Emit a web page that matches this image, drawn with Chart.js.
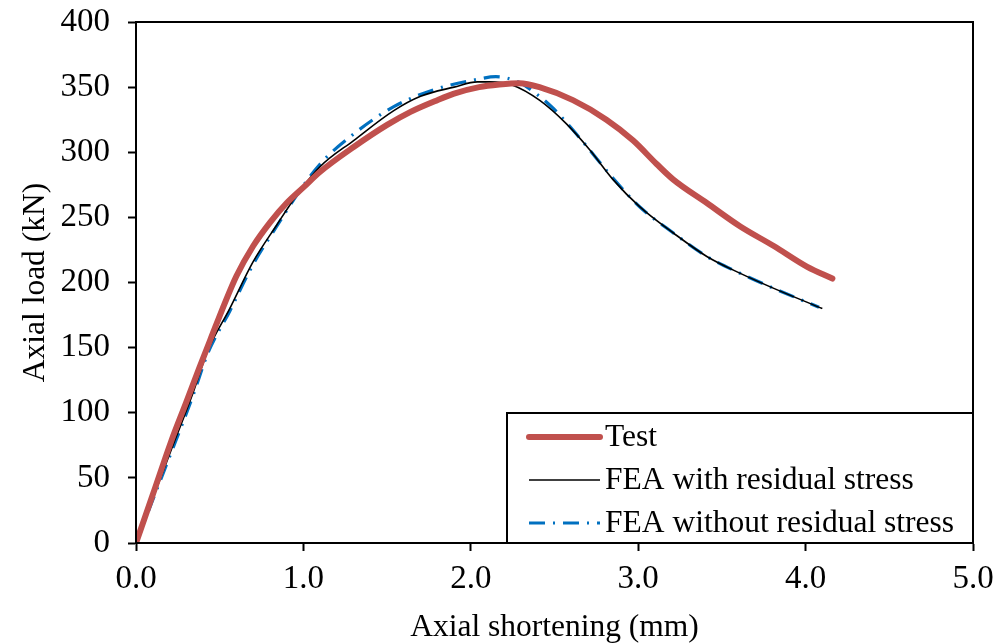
<!DOCTYPE html>
<html>
<head>
<meta charset="utf-8">
<script src="https://cdn.jsdelivr.net/npm/chart.js@4"></script>
<style>
  body { margin: 0; background: #fff; }
</style>
</head>
<body>
<canvas id="myChart" width="996" height="643"></canvas>
<script>
// Test curve
const testX = [0, 0.1, 0.21, 0.3, 0.38, 0.45, 0.53, 0.6, 0.7, 0.8, 0.9, 1.0, 1.1, 1.3, 1.5, 1.64, 1.8, 1.9, 2.05, 2.17, 2.29, 2.41, 2.61, 2.81, 2.97, 3.11, 3.21, 3.41, 3.61, 3.81, 4.01, 4.16];
const testY = [0, 37, 78, 108, 135, 158, 184, 205, 228, 246, 261, 273, 285, 304, 321, 331, 340, 345, 350, 352, 353, 350, 340, 325, 309, 291, 279, 261, 243, 228, 212, 203];

// FEA with residual stress
const feaRsX = [0, 0.1, 0.2, 0.34, 0.43, 0.56, 0.7, 0.84, 0.96, 1.1, 1.3, 1.54, 1.7, 1.9, 2.04, 2.11, 2.25, 2.41, 2.57, 2.71, 2.85, 3.01, 3.21, 3.41, 3.61, 3.81, 4.1];
const feaRsY = [0, 34, 68, 115, 148, 180, 216, 244, 267, 289, 309, 332, 343, 350, 354, 354, 351.5, 340, 322, 302, 279, 258, 238, 220, 207, 195.5, 180];

// FEA without residual stress
const feaNoX = [0, 0.1, 0.2, 0.34, 0.43, 0.56, 0.7, 0.84, 0.96, 1.1, 1.3, 1.54, 1.78, 2.04, 2.15, 2.29, 2.39, 2.49, 2.57, 2.67, 2.85, 3.01, 3.21, 3.41, 3.61, 3.81, 4.08];
const feaNoY = [0, 33, 66, 113, 146, 178, 214, 243, 267, 291, 314, 335, 348, 356, 358, 353.5, 345, 334, 323, 308, 280, 258, 238, 220, 207, 195.5, 181];

const seriesLabels = ['Test', 'FEA with residual stress', 'FEA without residual stress'];

function toPoints(xs, ys) {
  return xs.map((x, i) => ({ x: x, y: ys[i] }));
}

const FONT = '"Liberation Serif", "Times New Roman", serif';

// frame round the plot + legend box inside the plot
const framePlugin = {
  id: 'frameAndLegend',
  afterDatasetsDraw(chart) {
    const ctx = chart.ctx;
    const a = chart.chartArea;
    ctx.save();
    ctx.strokeStyle = '#000';
    ctx.lineWidth = 2;
    ctx.strokeRect(a.left, a.top, a.right - a.left, a.bottom - a.top);

    // legend box
    const boxW = 466, boxH = 130;
    const bx = a.right - boxW, by = a.bottom - boxH;
    ctx.fillStyle = '#fff';
    ctx.fillRect(bx, by, boxW, boxH);
    ctx.strokeRect(bx, by, boxW, boxH);

    ctx.font = '31.5px ' + FONT;
    ctx.textBaseline = 'middle';
    ctx.textAlign = 'left';
    chart.data.datasets.forEach((ds, i) => {
      const yy = by + 24 + i * 43;
      ctx.save();
      ctx.strokeStyle = ds.borderColor;
      ctx.lineWidth = ds.borderWidth;
      ctx.lineCap = ds.borderCapStyle || 'butt';
      ctx.setLineDash(ds.borderDash || []);
      ctx.beginPath();
      ctx.moveTo(bx + 22, yy);
      ctx.lineTo(bx + 93, yy);
      ctx.stroke();
      ctx.restore();
      ctx.fillStyle = '#000';
      ctx.fillText(ds.label, bx + 98, yy + 1);
    });
    ctx.restore();
  }
};

const ctx = document.getElementById('myChart').getContext('2d');
const myChart = new Chart(ctx, {
  type: 'line',
  data: {
    datasets: [{
      label: seriesLabels[0],
      data: toPoints(testX, testY),
      borderColor: '#C0504D',
      borderWidth: 6,
      borderCapStyle: 'round',
      borderJoinStyle: 'round',
      cubicInterpolationMode: 'monotone',
      pointRadius: 0,
      fill: false
    }, {
      label: seriesLabels[1],
      data: toPoints(feaRsX, feaRsY),
      borderColor: '#000000',
      borderWidth: 1.6,
      cubicInterpolationMode: 'monotone',
      pointRadius: 0,
      fill: false
    }, {
      label: seriesLabels[2],
      data: toPoints(feaNoX, feaNoY),
      borderColor: '#0070C0',
      borderWidth: 3.2,
      borderDash: [16, 8, 2, 8],
      cubicInterpolationMode: 'monotone',
      pointRadius: 0,
      fill: false
    }]
  },
  options: {
    responsive: false,
    animation: false,
    layout: { padding: { left: 0, top: 22, right: 23, bottom: 0 } },
    plugins: {
      legend: { display: false },
      tooltip: { enabled: false }
    },
    scales: {
      x: {
        type: 'linear',
        min: 0,
        max: 5,
        afterFit: s => {
          s.height = 100;
          s.paddingLeft = 0;
          s.paddingRight = 0;
        },
        ticks: {
          stepSize: 1,
          color: '#000',
          padding: 9,
          font: { family: FONT, size: 33 },
          callback: v => v.toFixed(1)
        },
        grid: { drawOnChartArea: false, drawTicks: true, tickLength: 8, tickWidth: 2, tickColor: '#000' },
        border: { display: true, color: '#000', width: 2 },
        title: {
          display: true,
          text: 'Axial shortening (mm)',
          color: '#000',
          font: { family: FONT, size: 31.5 },
          padding: { top: 0, bottom: -4 }
        }
      },
      y: {
        type: 'linear',
        min: 0,
        max: 400,
        afterFit: s => {
          s.width = 136;
          s.paddingTop = 0;
          s.paddingBottom = 0;
        },
        ticks: {
          stepSize: 50,
          color: '#000',
          padding: 18,
          font: { family: FONT, size: 33 }
        },
        grid: { drawOnChartArea: false, drawTicks: true, tickLength: 8, tickWidth: 2, tickColor: '#000' },
        border: { display: true, color: '#000', width: 2 },
        title: {
          display: true,
          text: 'Axial load (kN)',
          color: '#000',
          font: { family: FONT, size: 31.5 },
          padding: { top: 17, bottom: 0 }
        }
      }
    }
  },
  plugins: [framePlugin]
});
</script>
</body>
</html>
